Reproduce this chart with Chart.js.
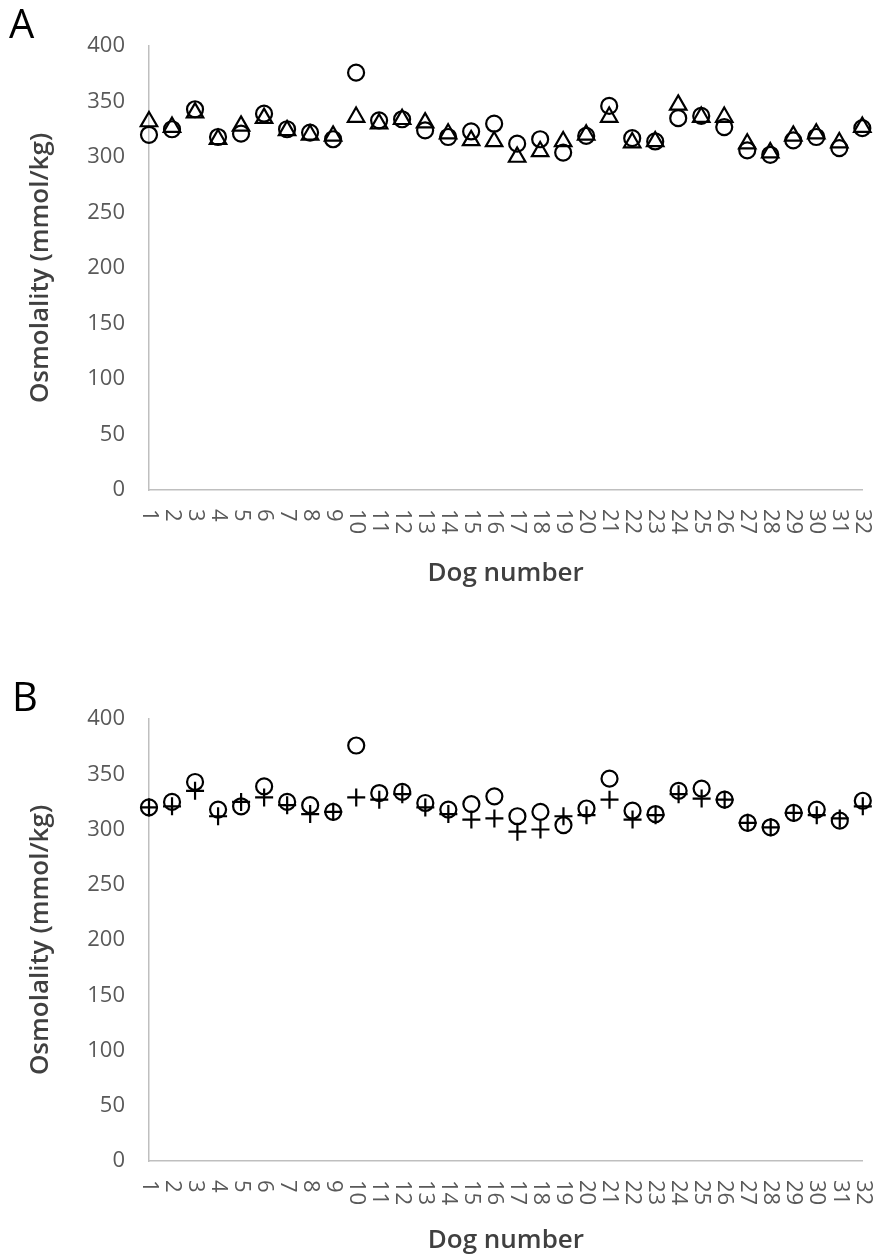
<!DOCTYPE html>
<html>
<head>
<meta charset="utf-8">
<script src="https://cdn.jsdelivr.net/npm/chart.js@4.4.1/dist/chart.umd.min.js"></script>
<style>
  html, body { margin: 0; padding: 0; background: #fff; }
  body { width: 874px; height: 1260px; position: relative; overflow: hidden; }
  .panel { position: absolute; left: 0; width: 874px; height: 630px; }
  .letter { position: absolute; font-family: 'Open Sans', sans-serif; font-size: 40px; color: #000; line-height: 1; }
</style>
</head>
<body>
<div class="panel" style="top:0"><canvas id="chartA" width="874" height="630"></canvas></div>
<div class="panel" style="top:630px"><canvas id="chartB" width="874" height="630"></canvas></div>
<div class="letter" style="left:9px; top:3px">A</div>
<div class="letter" style="left:12px; top:676px">B</div>
<script>
const dogNumbers = ['1', '2', '3', '4', '5', '6', '7', '8', '9', '10', '11', '12', '13', '14', '15', '16',
  '17', '18', '19', '20', '21', '22', '23', '24', '25', '26', '27', '28', '29', '30', '31', '32'];

// circles (same in both panels)
const measured = [320, 325, 343, 318, 321, 339, 325, 322, 316, 376, 333, 334, 324, 318, 323, 330,
  312, 316, 304, 319, 346, 317, 314, 335, 337, 327, 306, 302, 315, 318, 308, 326];

// triangles, panel A
const calcA = [332, 327, 340, 316, 328, 335, 324, 320, 319, 336, 330, 334, 331, 321, 315, 314,
  300, 305, 314, 320, 336, 313, 314, 347, 336, 336, 312, 304, 319, 321, 313, 327];

// crosses, panel B
const calcB = [320, 321, 335, 312, 325, 329, 322, 314, 316, 329, 327, 332, 320, 314, 309, 310,
  298, 300, 312, 313, 327, 309, 313, 332, 328, 327, 306, 302, 315, 313, 310, 321];

const yTicks = [0, 50, 100, 150, 200, 250, 300, 350, 400];

const tickColor = '#595959';
const titleColor = '#404040';
const axisColor = '#bfbfbf';

// x labels in the reference read top to bottom, which Chart.js can't rotate to
const rotatedTicks = {
  id: 'rotatedTicks',
  afterDraw(chart) {
    const xs = chart.scales.x;
    const ctx = chart.ctx;
    ctx.save();
    ctx.font = '22px "Open Sans"';
    ctx.fillStyle = tickColor;
    ctx.textAlign = 'left';
    ctx.textBaseline = 'middle';
    dogNumbers.forEach((lab, i) => {
      ctx.save();
      ctx.translate(xs.getPixelForValue(i), chart.chartArea.bottom + 19);
      ctx.rotate(Math.PI / 2);
      ctx.fillText(lab, 0, 0);
      ctx.restore();
    });
    ctx.restore();
  }
};

function markerSet(label, data, style, radius) {
  return {
    label: label,
    data: data,
    showLine: false,
    clip: false,
    pointStyle: style,
    pointRadius: radius,
    pointHoverRadius: radius,
    pointBorderWidth: 2.2,
    pointBorderColor: '#000',
    pointBackgroundColor: 'rgba(0,0,0,0)',
    borderColor: '#000'
  };
}

function makeChart(id, datasets, areaTop, xHeight, titlePadBottom) {
  const ctx = document.getElementById(id).getContext('2d');
  return new Chart(ctx, {
    type: 'line',
    data: { labels: dogNumbers, datasets: datasets },
    plugins: [rotatedTicks],
    options: {
      responsive: false,
      animation: false,
      events: [],
      layout: { padding: { top: areaTop, right: 9, left: 0, bottom: 0 } },
      plugins: { legend: { display: false }, tooltip: { enabled: false } },
      scales: {
        x: {
          type: 'category',
          offset: false,
          grid: { display: false, drawTicks: false },
          border: { display: true, color: axisColor, width: 1.5 },
          ticks: { display: false },
          title: {
            display: true,
            text: 'Dog number',
            color: titleColor,
            font: { family: 'Open Sans', size: 26, weight: '600' },
            padding: { top: 0, bottom: titlePadBottom }
          },
          afterFit(s) { s.height = xHeight; }
        },
        y: {
          min: 0,
          max: 400,
          afterBuildTicks(s) { s.ticks = yTicks.map(v => ({ value: v })); },
          grid: { display: false, drawTicks: false },
          border: { display: true, color: axisColor, width: 1.5 },
          ticks: { padding: 24, color: tickColor, font: { family: 'Open Sans', size: 22 } },
          title: {
            display: true,
            text: 'Osmolality (mmol/kg)',
            color: titleColor,
            font: { family: 'Open Sans', size: 26, weight: '600' },
            padding: { top: 25, bottom: 0 }
          },
          afterFit(s) { s.width = 149; }
        }
      }
    }
  });
}

makeChart('chartA', [
  markerSet('Measured', measured, 'circle', 8),
  markerSet('Calculated', calcA, 'triangle', 9.5)
], 46, 140, 41);

makeChart('chartB', [
  markerSet('Measured', measured, 'circle', 8),
  markerSet('Calculated', calcB, 'cross', 9)
], 89, 99, 4);
</script>
</body>
</html>
